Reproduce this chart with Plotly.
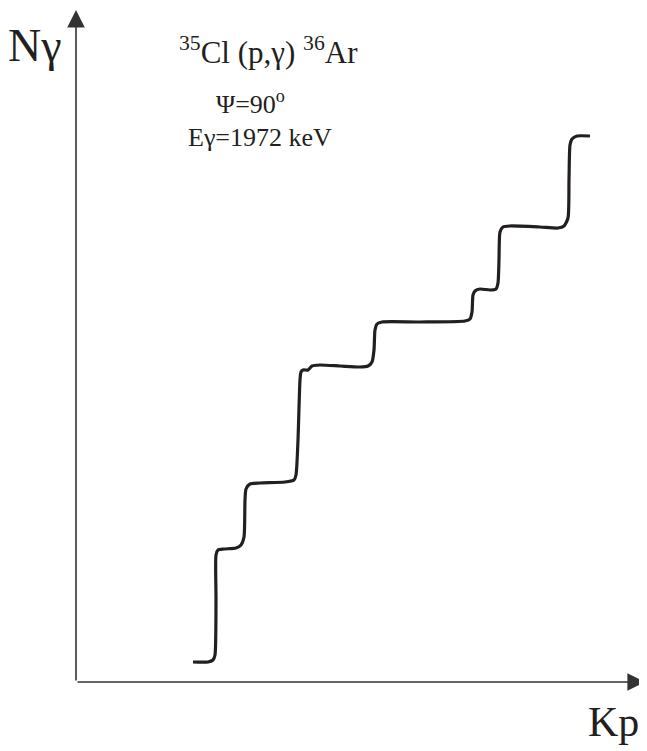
import plotly.graph_objects as go

# Step-like yield curve (arbitrary units)
kp = [117, 132, 137, 139, 140, 140, 142, 148, 160, 165, 168, 169, 170, 174, 184, 209, 218, 220,
      222, 224, 225, 227, 232, 234, 236, 244, 264, 284, 292, 296, 298, 299, 301, 306, 344, 389,
      394, 396, 397, 399, 404, 414, 420, 422, 423, 424, 427, 434, 464, 482, 488, 492, 493, 494,
      496, 501, 514]
ngamma = [20, 20, 22, 27, 82, 127, 132, 133, 134, 137, 145, 182, 193, 198, 199, 200, 202, 207,
          242, 302, 310, 312, 312, 314, 316, 317, 316, 315, 316, 320, 332, 352, 358, 360, 360, 361,
          363, 370, 387, 391, 393, 392, 393, 399, 422, 450, 455, 456, 455, 454, 456, 464, 502,
          537, 543, 546, 546]

FONT = "Liberation Serif, Times New Roman, Times, serif"
INK = "#231f20"

fig = go.Figure()
fig.add_trace(go.Scatter(x=kp, y=ngamma, mode="lines",
                         line=dict(color=INK, width=3.2, shape="spline", smoothing=0.6),
                         hoverinfo="skip", showlegend=False))

# page body has an 8px margin: figure drawn at (8, 8)
OFF = 8
W, H = 647 - OFF, 751 - OFF
L, R, T, B = 76 - OFF, 2, 10 - OFF, 69
pw, ph = W - L - R, H - T - B

def px(x):
    return (x - OFF - L) / pw

def py(y):
    return (H - B - (y - OFF)) / ph

ann = []
# axes with arrowheads
ann.append(dict(x=0, y=1, xref="paper", yref="paper", ax=0, ay=ph, axref="pixel", ayref="pixel",
                text="", showarrow=True, arrowhead=2, arrowsize=2.2, arrowwidth=1.6,
                arrowcolor="#333333", standoff=0))
ann.append(dict(x=1, y=0, xref="paper", yref="paper", ax=-pw, ay=0, axref="pixel", ayref="pixel",
                text="", showarrow=True, arrowhead=2, arrowsize=2.2, arrowwidth=1.6,
                arrowcolor="#333333", standoff=0))
# labels
ann.append(dict(x=px(6), y=py(45), xref="paper", yref="paper", xanchor="left", yanchor="middle",
                text="Nγ", showarrow=False, font=dict(family=FONT, size=46, color=INK)))
ann.append(dict(x=px(586), y=py(722), xref="paper", yref="paper", xanchor="left", yanchor="middle",
                text="Kp", showarrow=False, font=dict(family=FONT, size=42, color=INK)))
ann.append(dict(x=px(177), y=py(50), xref="paper", yref="paper", xanchor="left", yanchor="middle",
                text="<sup>35</sup>Cl (p,γ) <sup>36</sup>Ar", showarrow=False,
                font=dict(family=FONT, size=31, color=INK)))
ann.append(dict(x=px(214), y=py(103), xref="paper", yref="paper", xanchor="left", yanchor="middle",
                text="Ψ=90<sup>o</sup>", showarrow=False, font=dict(family=FONT, size=26, color=INK)))
ann.append(dict(x=px(186), y=py(137), xref="paper", yref="paper", xanchor="left", yanchor="middle",
                text="Eγ=1972 keV", showarrow=False, font=dict(family=FONT, size=26, color=INK)))

fig.update_layout(
    width=W, height=H,
    margin=dict(l=L, r=R, t=T, b=B),
    paper_bgcolor="white", plot_bgcolor="white",
    xaxis=dict(range=[0, pw], visible=False, fixedrange=True),
    yaxis=dict(range=[0, ph], visible=False, fixedrange=True),
    annotations=ann,
    showlegend=False,
)

fig.write_html("out.html")
